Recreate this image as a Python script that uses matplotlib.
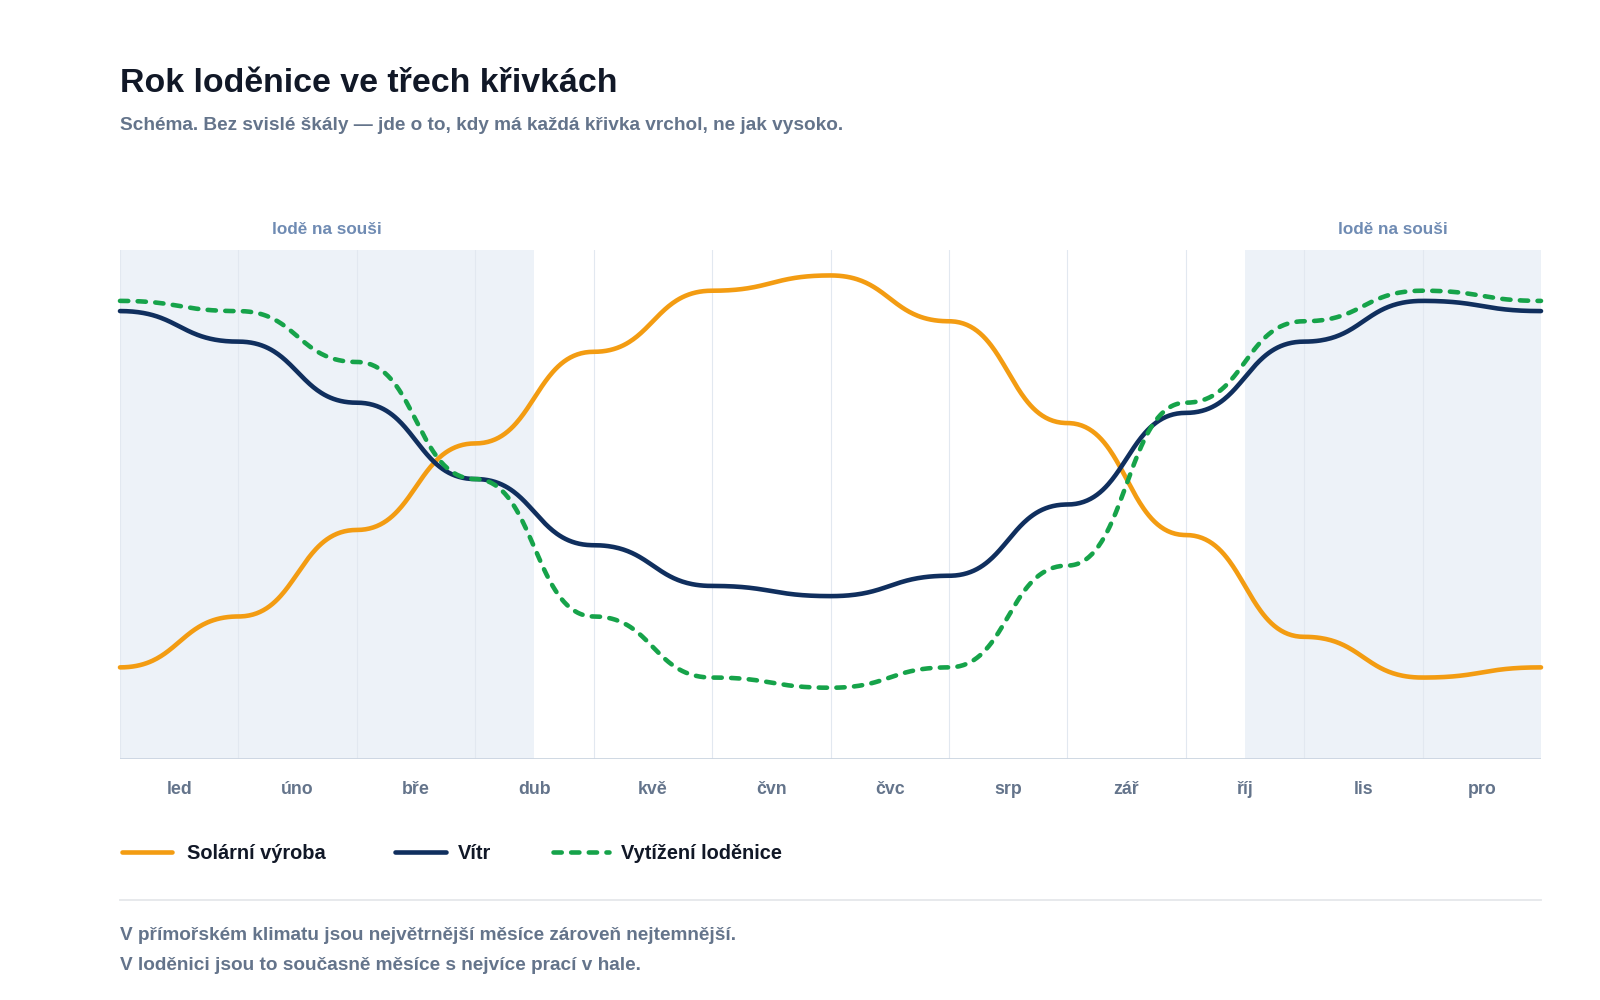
import numpy as np
import matplotlib
matplotlib.use("Agg")
import matplotlib.pyplot as plt
from matplotlib.transforms import blended_transform_factory
from matplotlib.lines import Line2D

plt.rcParams['font.family'] = ['Liberation Sans', 'DejaVu Sans']
plt.rcParams['font.weight'] = 'bold'

# ---- data ----
months = ['led', 'úno', 'bře', 'dub', 'kvě', 'čvn', 'čvc', 'srp', 'zář', 'říj', 'lis', 'pro']
# values at month boundaries (start of Jan ... end of Dec), relative 0-100
solar = [18, 28, 45, 62, 80, 92, 95, 86, 66, 44, 24, 16, 18]
wind = [88, 82, 70, 55, 42, 34, 32, 36, 50, 68, 82, 90, 88]
util = [90, 88, 78, 55, 28, 16, 14, 18, 38, 70, 86, 92, 90]
series_names = ['Solární výroba', 'Vítr', 'Vytížení loděnice']
shade_periods = [(0, 3.5), (9.5, 12)]
shade_label = 'lodě na souši'

title = 'Rok loděnice ve třech křivkách'
subtitle = 'Schéma. Bez svislé škály — jde o to, kdy má každá křivka vrchol, ne jak vysoko.'
notes = ['V přímořském klimatu jsou největrnější měsíce zároveň nejtemnější.',
         'V loděnici jsou to současně měsíce s nejvíce prací v hale.']

# ---- style ----
C_SOLAR = '#f39c12'
C_WIND = '#102f5e'
C_UTIL = '#16a34a'
C_MUTED = '#64748b'
C_SHADE = '#edf2f8'
C_GRID = '#e2e8f0'
C_TITLE = '#111827'
C_SHADE_TXT = '#6f8bb3'

W, H = 1600, 1000
fig = plt.figure(figsize=(16, 10), dpi=100)
fig.patch.set_facecolor('white')

def fx(px):
    return px / W

def fy(py):
    return 1 - py / H

ax = fig.add_axes([fx(120), fy(759), fx(1541) - fx(120), fy(250) - fy(759)])
ax.set_xlim(0, 12)
ax.set_ylim(0, 100)
ax.axis('off')


def bump_x(ys, n=80):
    """d3 curveBumpX-style: cubic Bezier per segment with horizontal tangents."""
    xs = np.arange(len(ys), dtype=float)
    t = np.linspace(0, 1, n)
    ox, oy = [], []
    for i in range(len(ys) - 1):
        x0, x1 = xs[i], xs[i + 1]
        y0, y1 = ys[i], ys[i + 1]
        xm = (x0 + x1) / 2
        bx = (1 - t) ** 3 * x0 + 3 * (1 - t) ** 2 * t * xm + 3 * (1 - t) * t ** 2 * xm + t ** 3 * x1
        by = (1 - t) ** 3 * y0 + 3 * (1 - t) ** 2 * t * y0 + 3 * (1 - t) * t ** 2 * y1 + t ** 3 * y1
        if i > 0:
            bx, by = bx[1:], by[1:]
        ox.append(bx)
        oy.append(by)
    return np.concatenate(ox), np.concatenate(oy)

# shading
for a, b in shade_periods:
    ax.axvspan(a, b, color=C_SHADE, zorder=0, lw=0)

# vertical grid
for i in range(len(months) + 1):
    ax.axvline(i, color=C_GRID, lw=0.8, zorder=1)

# bottom axis line
ax.axhline(0, color='#cbd5e1', lw=1.3, zorder=2)

LW = 3.3
dash = (0, (1.8, 2.05))

x, y = bump_x(solar)
ax.plot(x, y, color=C_SOLAR, lw=LW, solid_capstyle='round', zorder=3, clip_on=False)
x, y = bump_x(wind)
ax.plot(x, y, color=C_WIND, lw=LW, solid_capstyle='round', zorder=4, clip_on=False)
x, y = bump_x(util)
ax.plot(x, y, color=C_UTIL, lw=LW, linestyle=dash, dash_capstyle='round', zorder=5, clip_on=False)

# labels
bt = blended_transform_factory(ax.transData, fig.transFigure)
for i, m in enumerate(months):
    ax.text(i + 0.5, fy(794), m, transform=bt, ha='center', va='baseline',
            fontsize=12.75, color=C_MUTED, fontweight='bold')

for a, b in shade_periods:
    ax.text((a + b) / 2, fy(234), shade_label, transform=bt, ha='center', va='baseline',
            fontsize=12.3, color=C_SHADE_TXT, fontweight='bold')

fig.text(fx(120), fy(92), title, ha='left', va='baseline', fontsize=24.4,
         color=C_TITLE, fontweight='bold')
fig.text(fx(120), fy(129.5), subtitle, ha='left', va='baseline', fontsize=13.7,
         color=C_MUTED, fontweight='bold')

# legend (manual)
leg = [
    (series_names[0], C_SOLAR, '-', 120, 172, 187),
    (series_names[1], C_WIND, '-', 393, 446, 458),
    (series_names[2], C_UTIL, dash, 551, 609, 621),
]
ly = fy(852)
for name, col, ls, x0, x1, tx in leg:
    ln = Line2D([fx(x0 + 2), fx(x1)], [ly, ly], transform=fig.transFigure, color=col,
                lw=LW, linestyle=ls, solid_capstyle='round', dash_capstyle='round')
    fig.add_artist(ln)
    fig.text(fx(tx), fy(859), name, ha='left', va='baseline', fontsize=14.4,
             color=C_TITLE, fontweight='bold')

# separator
fig.add_artist(Line2D([fx(120), fx(1541)], [fy(900), fy(900)], transform=fig.transFigure,
                      color='#e5e7eb', lw=1.3))

fig.text(fx(120), fy(940), notes[0], ha='left', va='baseline', fontsize=13.7,
         color=C_MUTED, fontweight='bold')
fig.text(fx(120), fy(970), notes[1], ha='left', va='baseline', fontsize=13.7,
         color=C_MUTED, fontweight='bold')

fig.savefig('out.png', dpi=100, facecolor='white')
